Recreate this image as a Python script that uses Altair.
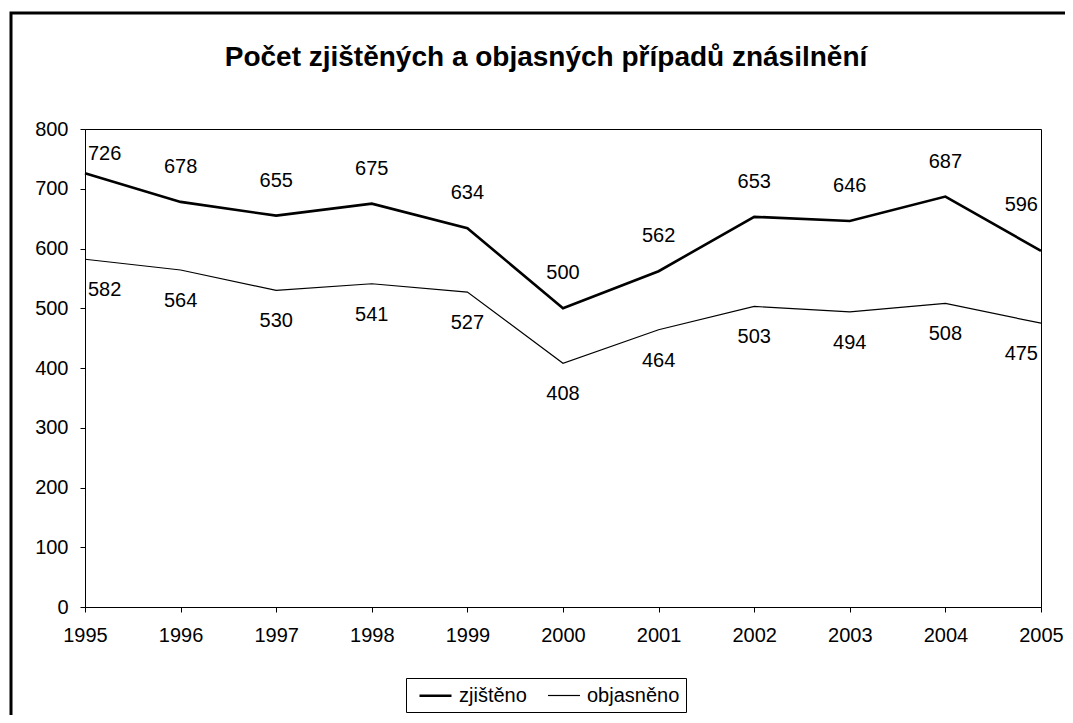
import altair as alt
import pandas as pd

years = [1995, 1996, 1997, 1998, 1999, 2000, 2001, 2002, 2003, 2004, 2005]
zjisteno = [726, 678, 655, 675, 634, 500, 562, 653, 646, 687, 596]
objasneno = [582, 564, 530, 541, 527, 408, 464, 503, 494, 508, 475]
series_names = ["zjištěno", "objasněno"]
y_ticks = [0, 100, 200, 300, 400, 500, 600, 700, 800]
title_text = "Počet zjištěných a objasných případů znásilnění"

rows = []
for name, vals in zip(series_names, [zjisteno, objasneno]):
    for yr, v in zip(years, vals):
        rows.append({"rok": yr, "hodnota": v, "serie": name})
df = pd.DataFrame(rows)

FONT = "Liberation Sans"
FS = 20

x_enc = alt.X("rok:Q", scale=alt.Scale(domain=[1995, 2005], nice=False, zero=False),
              axis=alt.Axis(values=years, format="d", title=None, labelPadding=13,
                            tickSize=5, labelFlush=False))
y_enc = alt.Y("hodnota:Q", scale=alt.Scale(domain=[0, 800], nice=False),
              axis=alt.Axis(values=y_ticks, title=None, labelPadding=12, tickSize=5))

base = alt.Chart(df)

lines = base.mark_line(color="black").encode(
    x=x_enc,
    y=y_enc,
    detail="serie:N",
    strokeWidth=alt.StrokeWidth(
        "serie:N",
        scale=alt.Scale(domain=series_names, range=[2.6, 1.2]),
        legend=alt.Legend(
            title=None, orient="none", legendX=321, legendY=549, direction="horizontal",
            symbolType="M-1.6,0H1.6", symbolSize=400, symbolStrokeColor="black",
            labelFont=FONT, labelFontSize=FS, labelColor="black",
            strokeColor="black", fillColor="white", padding=6,
            columnPadding=14, labelOffset=12, symbolOffset=12,
        ),
    ),
)

layers = [lines]
for name, dy_mid, dy_first, dy_last in [
    ("zjištěno", -35, -19, -46),
    ("objasněno", 31, 31, 31),
]:
    sub = base.transform_filter(alt.datum.serie == name)
    mid = sub.transform_filter((alt.datum.rok > 1995) & (alt.datum.rok < 2005)).mark_text(
        font=FONT, fontSize=FS, color="black", dy=dy_mid, align="center", baseline="middle"
    ).encode(x="rok:Q", y="hodnota:Q", text="hodnota:Q")
    first = sub.transform_filter(alt.datum.rok == 1995).mark_text(
        font=FONT, fontSize=FS, color="black", dy=dy_first, dx=3, align="left", baseline="middle"
    ).encode(x="rok:Q", y="hodnota:Q", text="hodnota:Q")
    last = sub.transform_filter(alt.datum.rok == 2005).mark_text(
        font=FONT, fontSize=FS, color="black", dy=dy_last, dx=-3, align="right", baseline="middle"
    ).encode(x="rok:Q", y="hodnota:Q", text="hodnota:Q")
    layers += [mid, first, last]

single = pd.DataFrame({"k": [0], "t": [title_text]})

frame = alt.Chart(single).mark_rect(
    fillOpacity=0, stroke="black", strokeWidth=3
).encode(x=alt.value(-74), x2=alt.value(1100), y=alt.value(-116), y2=alt.value(1000))
layers.append(frame)

title = alt.Chart(single).mark_text(
    font=FONT, fontSize=28, fontWeight="bold", color="black", align="center", baseline="middle"
).encode(x=alt.value(461), y=alt.value(-71), text="t:N")
layers.append(title)

chart = alt.layer(*layers).properties(
    width=956,
    height=478,
    autosize=alt.AutoSizeParams(type="none"),
    padding={"left": 77, "top": 121, "right": 24, "bottom": 108},
).configure_axis(
    labelFont=FONT, labelFontSize=FS, labelColor="black",
    domainColor="black", tickColor="black", grid=False,
).configure_view(
    stroke="black", strokeWidth=1
)

chart.save("out.html", embed_options={"renderer": "svg", "actions": False})
